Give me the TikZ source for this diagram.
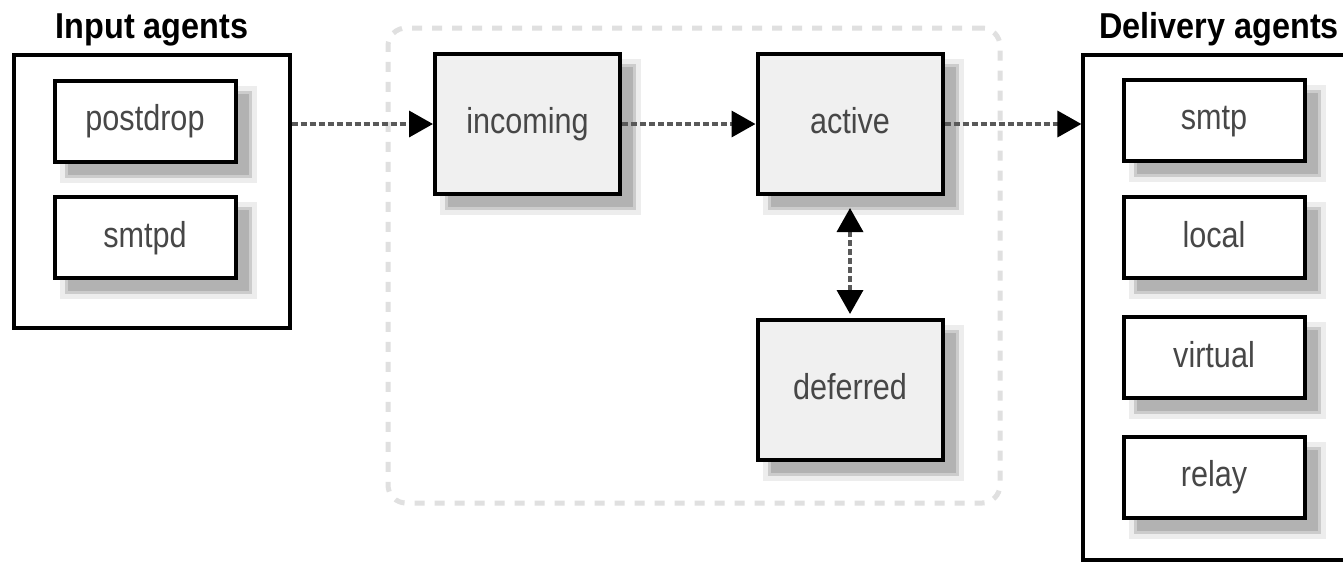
\documentclass[tikz,border=0pt]{standalone}
\usepackage{fontspec}
\setmainfont{Liberation Sans}
\usepackage{graphicx}
\usetikzlibrary{arrows.meta}
\newcommand\cnd[1]{\scalebox{0.85}[1]{#1}}
\newcommand\ttl[1]{\scalebox{0.9}[1]{\bfseries #1}}
\tikzset{
  shadowed/.style={
    preaction={fill=black!7, draw=black!7, line width=8pt, transform canvas={shift={(6.5pt,-6.5pt)}}},
    preaction={fill=black!20, draw=black!20, line width=3pt, transform canvas={shift={(6.5pt,-6.5pt)}}},
    preaction={fill=black!30, transform canvas={shift={(6.5pt,-6.5pt)}}}},
  outerbox/.style={draw=black, line width=1.6pt, fill=white, inner sep=0pt},
  agentbox/.style={shadowed, draw=black, line width=2pt, fill=white, inner sep=0pt,
    minimum width=90.5pt, minimum height=40.5pt, text=black!72,
    text height=9.5pt, text depth=0pt,
    font=\fontsize{18}{21}\selectfont},
  queuebox/.style={shadowed, draw=black, line width=2pt, fill=black!6, inner sep=0pt,
    minimum width=92.5pt, minimum height=70pt, text=black!72,
    text height=9.5pt, text depth=0pt,
    font=\fontsize{18}{21}\selectfont},
  titletext/.style={inner sep=0pt, anchor=base, font=\fontsize{18}{21}\selectfont},
  tip/.style={Triangle[length=12pt,width=13pt,color=black,fill=black]},
  flow/.style={draw=black!65, line width=1.8pt, dash pattern=on 3pt off 1.5pt,
    -{Triangle[length=12pt,width=13pt,color=black,fill=black]}},
  biflow/.style={draw=black!65, line width=1.8pt, dash pattern=on 3pt off 1.5pt,
    {Triangle[length=12pt,width=13pt,color=black,fill=black]}-{Triangle[length=12pt,width=13pt,color=black,fill=black]}},
  area/.style={draw=black!12, line width=2.5pt, dash pattern=on 5pt off 5pt,
    rounded corners=9pt, inner sep=0pt}
}
\begin{document}
\begin{tikzpicture}[x=0.5pt,y=-0.5pt]
\useasboundingbox (0,0) rectangle (1343,564);
\clip (0,0) rectangle (1343,564);
\fill[white] (0,0) rectangle (1343,564);

% queue area
\node[area, minimum width=306pt, minimum height=237.5pt] (queues) at (694,265.5) {};

% input agents
\node[titletext] (inptitle) at (152,38) {\ttl{Input agents}};
\node[outerbox, minimum width=138pt, minimum height=136.5pt] (inp) at (152,191.5) {};
\node[agentbox] (postdrop) at (145,121) {\cnd{postdrop}};
\node[agentbox] (smtpd) at (145,237.5) {\cnd{smtpd}};

% delivery agents
\node[titletext, anchor=base west] (deltitle) at (1099,38) {\ttl{Delivery agents}};
\node[outerbox, minimum width=140pt, minimum height=252.5pt] (deliv) at (1223,307.5) {};
\node[agentbox] (smtp) at (1214,120) {\cnd{smtp}};
\node[agentbox] (local) at (1214,237.5) {\cnd{local}};
\node[agentbox] (virtual) at (1214,357.5) {\cnd{virtual}};
\node[agentbox] (relay) at (1214,477) {\cnd{relay}};

% queues
\node[queuebox] (incoming) at (527.5,124) {\cnd{incoming}};
\node[queuebox] (active) at (850,124) {\cnd{active}};
\node[queuebox] (deferred) at (850,390) {\cnd{deferred}};

% connectors
\draw[flow] (inp.east |- incoming.west) -- (incoming.west);
\draw[flow] (incoming.east) -- (active.west);
\draw[flow] (active.east) -- (deliv.west |- active.east);
\draw[biflow, shorten <=6pt, shorten >=2pt] (active.south) -- (deferred.north);
\end{tikzpicture}
\end{document}
